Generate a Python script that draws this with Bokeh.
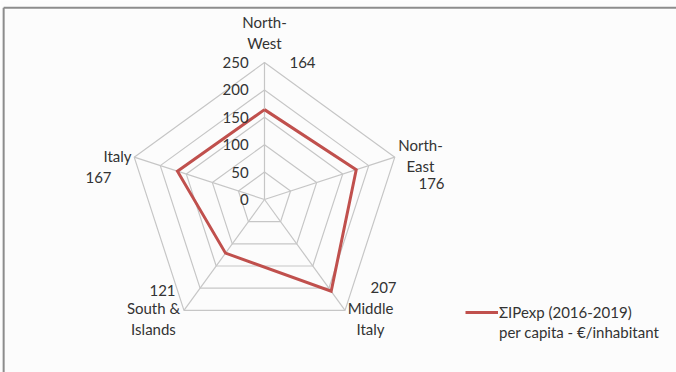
import numpy as np
from bokeh.plotting import figure
from bokeh.models import Legend, LegendItem
from bokeh.core.properties import value
from bokeh.embed import file_html
from bokeh.resources import INLINE

# ---- data ----
categories = ["North-West", "North-East", "Middle Italy", "South & Islands", "Italy"]
category_labels = ["North-\nWest", "North-\nEast", "Middle\nItaly", "South &\nIslands", "Italy"]
values = [164, 176, 207, 121, 167]
ticks = [0, 50, 100, 150, 200, 250]
tick_labels = ["0", "50", "100", "150", "200", "250"]
series_name_lines = ["ΣIPexp (2016-2019)", "per capita - €/inhabitant"]

# ---- geometry / style ----
PX = 137 / 250.0          # pixels per value unit
W, H = 676, 372
CX, CY = 264, 199         # centre in screen px
rmax = 250
angles = np.deg2rad(90 - 72 * np.arange(len(categories)))

FONT = "Lato"
FS = "15px"
TXT = "#333333"
GRID = "#c6c6c6"
RED = "#c0504d"

p = figure(width=W, height=H, output_backend="svg", toolbar_location=None,
           x_range=(-CX / PX, (W - CX) / PX), y_range=(-(H - CY) / PX, CY / PX),
           min_border=0, background_fill_color="#fcfcfc", border_fill_color="#fcfcfc")
p.axis.visible = False
p.grid.visible = False
p.outline_line_color = None

# frame border (decoration)
p.segment(x0=[-476, -476], y0=[350, -400], x1=[900, -476], y1=[350, 350],
          line_color="#8c8c8c", line_width=2)

# grid polygons
for t in ticks[1:]:
    xs = list(t * np.cos(angles)) + [t * np.cos(angles[0])]
    ys = list(t * np.sin(angles)) + [t * np.sin(angles[0])]
    p.line(xs, ys, line_color=GRID, line_width=1.2)
# spokes
p.segment(x0=[0] * 5, y0=[0] * 5, x1=list(rmax * np.cos(angles)), y1=list(rmax * np.sin(angles)),
          line_color=GRID, line_width=1.2)

# series
vx = [v * np.cos(a) for v, a in zip(values, angles)]
vy = [v * np.sin(a) for v, a in zip(values, angles)]
r = p.line(vx + [vx[0]], vy + [vy[0]], line_color=RED, line_width=3, line_join="miter")
r_blank = p.line([0, 0], [0, 0], line_alpha=0)

# radial tick labels
p.text(x=[-29] * len(ticks), y=ticks, text=tick_labels, text_align="right",
       text_baseline="middle", text_font=value(FONT), text_font_size=FS, text_color=TXT)

# category labels (screen-px positions)
name_pos = [(264, 32), (420, 155), (370, 318), (153, 318), (117, 155)]
val_pos = [(302, 62), (431, 183), (383, 287), (162, 290), (98, 177)]
to_d = lambda q: ((q[0] - CX) / PX, (CY - q[1]) / PX)
p.text(x=[to_d(q)[0] for q in name_pos], y=[to_d(q)[1] for q in name_pos], text=category_labels,
       text_align="center", text_baseline="middle", text_line_height=1.22,
       text_font=value(FONT), text_font_size=FS, text_color=TXT)
p.text(x=[to_d(q)[0] for q in val_pos], y=[to_d(q)[1] for q in val_pos],
       text=[str(v) for v in values], text_align="center", text_baseline="middle",
       text_font=value(FONT), text_font_size=FS, text_color=TXT)

legend = Legend(items=[LegendItem(label=series_name_lines[0], renderers=[r]),
                       LegendItem(label=series_name_lines[1], renderers=[r_blank])],
                location=(465, 30), glyph_width=33, glyph_height=20, label_height=20,
                spacing=0, label_standoff=1, padding=0, margin=0, border_line_color=None,
                background_fill_alpha=0, label_text_font=FONT, label_text_font_size=FS,
                label_text_color=TXT)
p.add_layout(legend)

open("out.html", "w").write(file_html(p, INLINE))
